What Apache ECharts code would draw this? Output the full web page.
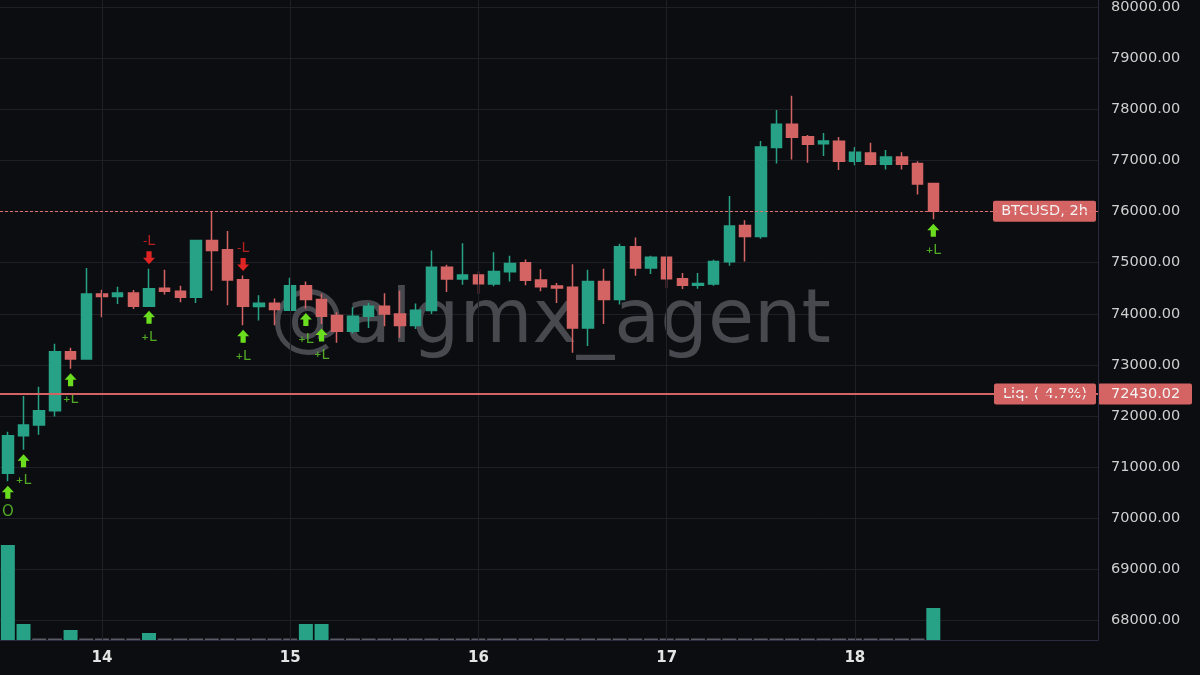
<!DOCTYPE html>
<html>
<head>
<meta charset="utf-8">
<script src="https://cdn.jsdelivr.net/npm/echarts@6/dist/echarts.min.js"></script>
<style>
html,body{margin:0;padding:0;background:#0c0d10;}
#main{width:1200px;height:675px;}
</style>
</head>
<body>
<div id="main"></div>
<script>
// ---------- DATA ----------
// 2h candles starting 13th 12:00; 60 candles + 10 empty future slots
const startDay = 13, startHour = 12, slotCount = 70;
const times = [];
for (let i = 0; i < slotCount; i++) {
  const h = startHour + 2 * i;
  const d = startDay + Math.floor(h / 24);
  const hh = h % 24;
  times.push(d + ' ' + (hh < 10 ? '0' : '') + hh + ':00');
}
const dayTicks = ['14 00:00', '15 00:00', '16 00:00', '17 00:00', '18 00:00'];

// [open, close, low, high]
const ohlc = [
  [70874, 71610, 70718, 71688],
  [71610, 71818, 71337, 72390],
  [71818, 72098, 71629, 72572],
  [72098, 73255, 71987, 73411],
  [73255, 73112, 72923, 73333],
  [73112, 74386, 73100, 74894],
  [74386, 74336, 73932, 74472],
  [74336, 74406, 74192, 74531],
  [74406, 74146, 74094, 74465],
  [74146, 74492, 74146, 74882],
  [74498, 74439, 74375, 74862],
  [74439, 74322, 74224, 74550],
  [74322, 75434, 74211, 75450],
  [75434, 75239, 74453, 76000],
  [75252, 74660, 74166, 75623],
  [74667, 74146, 73776, 74751],
  [74140, 74205, 73868, 74361],
  [74205, 74082, 73776, 74297],
  [74068, 74550, 74068, 74706],
  [74550, 74277, 74102, 74634],
  [74277, 73951, 73801, 74394],
  [73965, 73659, 73430, 74030],
  [73659, 73951, 73613, 74127],
  [73951, 74146, 73723, 74211],
  [74146, 73996, 73756, 74400],
  [73996, 73770, 73528, 74453],
  [73770, 74068, 73703, 74199],
  [74062, 74913, 73996, 75239],
  [74913, 74679, 74426, 74960],
  [74679, 74757, 74570, 75381],
  [74757, 74589, 74394, 74829],
  [74582, 74829, 74537, 75206],
  [74823, 74985, 74634, 75135],
  [74998, 74654, 74556, 75063],
  [74660, 74531, 74439, 74874],
  [74543, 74504, 74211, 74601],
  [74517, 73723, 73235, 74972],
  [73723, 74634, 73366, 74862],
  [74634, 74277, 73801, 74882],
  [74277, 75311, 74180, 75370],
  [75311, 74894, 74745, 75493],
  [74894, 75108, 74777, 75135],
  [75108, 74687, 74504, 75120],
  [74687, 74556, 74484, 74796],
  [74556, 74595, 74492, 74796],
  [74582, 75024, 74550, 75057],
  [75018, 75721, 74940, 76307],
  [75727, 75512, 75024, 75831],
  [75512, 77268, 75467, 77385],
  [77255, 77711, 76943, 77990],
  [77711, 77457, 77021, 78270],
  [77470, 77321, 76956, 77502],
  [77333, 77385, 77093, 77541],
  [77379, 76989, 76814, 77463],
  [76989, 77165, 76911, 77268],
  [77151, 76931, 76911, 77352],
  [76931, 77073, 76826, 77210],
  [77073, 76931, 76826, 77165],
  [76943, 76541, 76338, 76989],
  [76553, 76010, 75850, 76560]
];

// volume (arbitrary units, read as bar height)
const volume = [
  95, 16, 1.5, 1.5, 10, 1.5, 1.5, 1.5, 1.5, 7,
  1.5, 1.5, 1.5, 1.5, 1.5, 1.5, 1.5, 1.5, 1.5, 16,
  16, 1.5, 1.5, 1.5, 1.5, 1.5, 1.5, 1.5, 1.5, 1.5,
  1.5, 1.5, 1.5, 1.5, 1.5, 1.5, 1.5, 1.5, 1.5, 1.5,
  1.5, 1.5, 1.5, 1.5, 1.5, 1.5, 1.5, 1.5, 1.5, 1.5,
  1.5, 1.5, 1.5, 1.5, 1.5, 1.5, 1.5, 1.5, 1.5, 32
];

// signals
const longSignals = [[0, 'O'], [1, '+L'], [4, '+L'], [9, '+L'], [15, '+L'], [19, '+L'], [20, '+L'], [59, '+L']];
const shortSignals = [[9, '-L'], [15, '-L']];

const lastPrice = 76010;
const liqPrice = 72430.02;
const liqLabel = 'Liq. (-4.7%)';
const symbolLabel = 'BTCUSD, 2h';
const watermark = '@algmx_agent';
const yTicks = { min: 68000, max: 80000, interval: 1000 };

// ---------- STYLE ----------
const GREEN = '#27a286';
const RED = '#d46464';
const LIME = '#6ade1e';
const LIME_TXT = '#62d02a';
const SIG_RED = '#e02424';
const GRIDC = '#1f2027';
const BORDER = '#2c2a40';
const FONT = 'DejaVu Sans';

const upArrow = 'path://M6,0 L12,6.5 L8.6,6.5 L8.6,13 L3.4,13 L3.4,6.5 L0,6.5 Z';
const downArrow = 'path://M3.4,0 L8.6,0 L8.6,6.5 L12,6.5 L6,13 L0,6.5 L3.4,6.5 Z';

const gridPos = { left: -1, right: 102 };

const option = {
  backgroundColor: '#0c0d10',
  animation: false,
  textStyle: { fontFamily: FONT },
  grid: [
    { left: gridPos.left, right: gridPos.right, top: 5, bottom: 55 },
    { left: gridPos.left, right: gridPos.right, top: 0, bottom: 35 }
  ],
  xAxis: [
    {
      gridIndex: 0, type: 'category', data: times, boundaryGap: true,
      axisLine: { show: false }, axisTick: { show: false },
      axisLabel: { show: false }, splitLine: { show: false }
    },
    {
      gridIndex: 1, type: 'category', data: times, boundaryGap: true,
      axisLine: { show: true, lineStyle: { color: BORDER, width: 1 } },
      axisTick: { show: false },
      axisLabel: {
        interval: (idx, val) => dayTicks.indexOf(val) >= 0,
        formatter: v => String(parseInt(v, 10)),
        color: '#e4e4e4', fontWeight: 'bold', fontSize: 15,
        fontFamily: FONT, margin: 11
      },
      splitLine: { show: false }
    }
  ],
  yAxis: [
    {
      gridIndex: 0, type: 'value', position: 'right',
      min: yTicks.min, max: yTicks.max, interval: yTicks.interval,
      axisLine: { show: false }, axisTick: { show: false },
      axisLabel: {
        formatter: v => v.toFixed(2), color: '#cfcfcf',
        fontSize: 14.5, fontFamily: FONT, margin: 13
      },
      splitLine: { show: true, lineStyle: { color: GRIDC, width: 1 } }
    },
    {
      gridIndex: 1, type: 'value', position: 'right', min: 0, max: 640,
      axisLine: { show: true, lineStyle: { color: BORDER, width: 1 } },
      axisTick: { show: false }, axisLabel: { show: false },
      splitLine: { show: false }
    }
  ],
  series: [
    {
      name: 'vol', type: 'bar', xAxisIndex: 1, yAxisIndex: 1, z: 1,
      barWidth: 14,
      data: volume.map(v => ({
        value: v,
        itemStyle: { color: v < 2 ? '#5b5b66' : GREEN }
      })),
      markLine: {
        silent: true, symbol: 'none', label: { show: false },
        lineStyle: { color: GRIDC, type: 'solid', width: 1 },
        data: dayTicks.map(d => ({ xAxis: d }))
      }
    },
    {
      name: 'BTCUSD', type: 'candlestick', xAxisIndex: 0, yAxisIndex: 0, z: 3,
      barWidth: 11,
      itemStyle: {
        color: GREEN, color0: RED, borderColor: GREEN, borderColor0: RED, borderWidth: 1.5
      },
      data: ohlc,
      markLine: {
        silent: true, symbol: 'none', label: { show: false },
        data: [
          { yAxis: lastPrice, lineStyle: { color: '#e07070', type: [3, 2], width: 1.2 } },
          { yAxis: liqPrice, lineStyle: { color: RED, type: 'solid', width: 2 } }
        ]
      }
    },
    {
      name: 'upArrow', type: 'scatter', xAxisIndex: 0, yAxisIndex: 0, z: 4,
      symbol: upArrow, symbolSize: [12, 13], symbolOffset: [0, 11],
      itemStyle: { color: LIME, opacity: 1 },
      data: longSignals.map(s => [s[0], ohlc[s[0]][2]])
    },
    {
      name: 'upText', type: 'scatter', xAxisIndex: 0, yAxisIndex: 0, z: 4,
      symbolSize: 1, itemStyle: { color: 'rgba(0,0,0,0)' },
      label: {
        show: true, position: 'inside', offset: [0, 31],
        formatter: p => p.name === 'O' ? '{o|O}' : '{p|+}{l|L}',
        rich: {
          o: { fontSize: 15, color: LIME_TXT, fontFamily: FONT },
          p: { fontSize: 9, color: LIME_TXT, fontFamily: FONT, fontWeight: 'bold' },
          l: { fontSize: 14, color: LIME_TXT, fontFamily: FONT }
        }
      },
      data: longSignals.map(s => ({ name: s[1], value: [s[0], ohlc[s[0]][2]] }))
    },
    {
      name: 'downArrow', type: 'scatter', xAxisIndex: 0, yAxisIndex: 0, z: 4,
      symbol: downArrow, symbolSize: [12, 13], symbolOffset: [0, -11],
      itemStyle: { color: SIG_RED, opacity: 1 },
      data: shortSignals.map(s => [s[0], ohlc[s[0]][3]])
    },
    {
      name: 'downText', type: 'scatter', xAxisIndex: 0, yAxisIndex: 0, z: 4,
      symbolSize: 1, itemStyle: { color: 'rgba(0,0,0,0)' },
      label: {
        show: true, position: 'inside', offset: [0, -27],
        formatter: () => '{p|-}{l|L}',
        rich: {
          p: { fontSize: 12, color: SIG_RED, fontFamily: FONT },
          l: { fontSize: 14, color: SIG_RED, fontFamily: FONT }
        }
      },
      data: shortSignals.map(s => ({ name: s[1], value: [s[0], ohlc[s[0]][3]] }))
    }
  ]
};

const chart = echarts.init(document.getElementById('main'), null, { renderer: 'canvas' });
chart.setOption(option);

const yLast = chart.convertToPixel({ yAxisIndex: 0 }, lastPrice);
const yLiq = chart.convertToPixel({ yAxisIndex: 0 }, liqPrice);
const plotRight = 1200 - gridPos.right;

function box(id, x, w, yc, text, textX, align) {
  return {
    id: id, type: 'group', z: 10, silent: true,
    children: [
      { type: 'rect', shape: { x: x, y: yc - 10.5, width: w, height: 21, r: 2 }, style: { fill: RED } },
      {
        type: 'text',
        style: {
          x: textX, y: yc + 0.5, text: text, fill: '#f3f3f3',
          font: '14.5px "DejaVu Sans"', align: align, verticalAlign: 'middle'
        }
      }
    ]
  };
}

chart.setOption({
  graphic: [
    {
      id: 'wm', type: 'text', z: 0, silent: true,
      style: {
        x: 270, y: 323, text: watermark,
        font: '75px "DejaVu Sans"', fill: '#48484f',
        verticalAlign: 'middle', align: 'left'
      }
    },
    box('lastBox', plotRight - 105, 103, yLast, symbolLabel, plotRight - 105 + 51.5, 'center'),
    box('liqBox', plotRight - 104, 102, yLiq, liqLabel, plotRight - 104 + 51, 'center'),
    box('liqAxis', plotRight, 94, yLiq, liqPrice.toFixed(2), plotRight + 13, 'left')
  ]
});
</script>
</body>
</html>
